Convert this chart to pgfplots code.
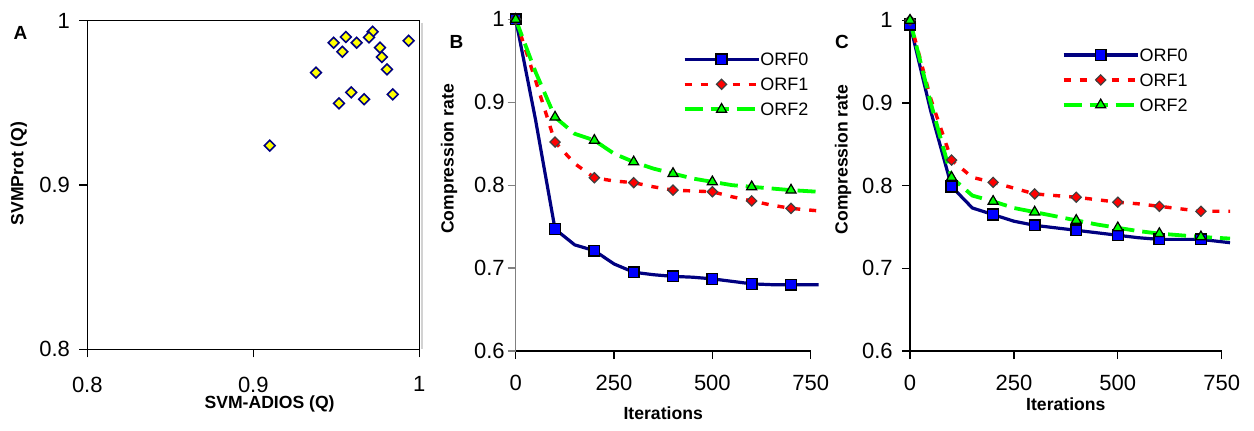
\documentclass[border=0pt]{standalone}
\usepackage{pgfplots}
\pgfplotsset{compat=1.18}
\usepackage{fontspec}
\setmainfont{Liberation Sans}
\definecolor{navy}{RGB}{0,0,128}
\definecolor{mblue}{RGB}{0,0,255}
\definecolor{mred}{RGB}{255,0,0}
\definecolor{mgreen}{RGB}{0,255,0}
\definecolor{myellow}{RGB}{255,255,0}
\definecolor{dgray}{RGB}{64,64,64}

\pgfplotstableread{
it   o0     o1     o2
0    1.000  1.000  1.000
50   0.880  0.927  0.937
100  0.747  0.852  0.882
150  0.728  0.826  0.862
200  0.721  0.809  0.854
250  0.705  0.805  0.838
300  0.695  0.803  0.828
350  0.692  0.798  0.820
400  0.690  0.794  0.814
450  0.689  0.793  0.808
500  0.687  0.792  0.804
550  0.684  0.786  0.800
600  0.681  0.781  0.798
650  0.680  0.776  0.796
700  0.680  0.772  0.794
770  0.680  0.769  0.792
}\tabB

\pgfplotstableread{
it   o0     o1     o2
0    0.995  1.000  1.000
50   0.890  0.905  0.900
100  0.799  0.831  0.810
150  0.773  0.810  0.788
200  0.765  0.804  0.781
250  0.757  0.797  0.773
300  0.752  0.790  0.768
350  0.749  0.788  0.763
400  0.746  0.786  0.758
450  0.743  0.783  0.753
500  0.740  0.780  0.749
550  0.737  0.778  0.745
600  0.735  0.775  0.742
650  0.735  0.772  0.740
700  0.735  0.769  0.738
770  0.731  0.769  0.736
}\tabC

\pgfplotsset{
  common/.style={
    scale only axis,
    anchor=south west,
    /pgf/number format/assume math mode=true,
    tick align=outside,
    tick pos=left,
    major tick length=4pt,
    tick style={black, line width=0.6pt},
    ticklabel style={font=\fontsize{11}{13}\selectfont},
    label style={font=\bfseries\fontsize{8.8}{10}\selectfont},
    xticklabel style={anchor=north, inner sep=0pt, yshift=-8pt},
    yticklabel style={anchor=east, inner sep=0pt},
  },
  curves/.style={
    common,
    clip=false,
    axis lines*=left,
    axis line style={line width=0.6pt},
    xmin=0, xmax=750, ymin=0.6, ymax=1,
    xtick={0,250,500,750},
    ytick={0.6,0.7,0.8,0.9,1},
    xlabel={Iterations},
    ylabel={Compression rate},
    mark repeat=2,
    legend cell align=left,
    legend style={draw=none, fill=none, inner sep=0pt, outer sep=0pt,
      anchor=north west, row sep=6pt,
      font=\fontsize{9}{9}\selectfont,
      nodes={inner sep=0pt, text height=6.5pt, text depth=0pt},
      /tikz/every even column/.append style={column sep=2pt}},
    legend image code/.code={\draw[mark repeat=2,mark phase=2,##1] plot coordinates {(0pt,0pt) (18.5pt,0pt) (37pt,0pt)};},
  },
  s0/.style={navy, line width=1.6pt, mark=square*, mark size=2.7pt, mark options={solid, fill=mblue, draw=black, line width=0.7pt}},
  s1/.style={mred, line width=1.7pt, dash pattern=on 3.5pt off 4.5pt, mark=square*, mark size=1.8pt, mark options={solid, rotate=45, fill=mred, draw=dgray, line width=0.6pt}},
  s2/.style={mgreen, line width=1.9pt, dash pattern=on 9pt off 4pt, mark=triangle*, mark size=2.9pt, mark options={solid, fill=mgreen, draw=black, line width=0.6pt}},
}

\begin{document}
\begin{tikzpicture}
\path[use as bounding box] (0,0) rectangle (627pt,215pt);

% Panel A
\begin{axis}[common, name=pA,
  at={(43.65pt,40.35pt)}, width=166pt, height=164.3pt,
  xmin=0.8, xmax=1, ymin=0.8, ymax=1,
  xtick={0.8,0.9,1}, ytick={0.8,0.9,1},
  axis line style={line width=0.6pt},
  xticklabel style={yshift=-1.5pt},
  yticklabel style={xshift=-4.5pt},
  xlabel={SVM-ADIOS (Q)}, ylabel={SVMProt (Q)},
  xlabel style={at={(axis description cs:0.549,0)}, anchor=north, inner sep=0pt, yshift=-22.9pt},
  ylabel style={at={(axis description cs:-0.206,0.535)}, anchor=center},
]
\addplot[only marks, mark=square*, mark size=1.9pt,
  mark options={rotate=45, fill=myellow, draw=navy, line width=0.8pt}] coordinates {
(0.9719,0.9933) (0.9697,0.9899) (0.9936,0.9878) (0.9558,0.9901)
(0.9484,0.9866) (0.9623,0.9866) (0.9536,0.9811) (0.9763,0.9836)
(0.9775,0.9779) (0.9805,0.9704) (0.9378,0.9684) (0.9590,0.9564)
(0.9840,0.9552) (0.9667,0.9522) (0.9516,0.9497) (0.9099,0.9240)
};
\end{axis}
\draw[gray!35, line width=1.2pt] ([xshift=1.3pt,yshift=-1pt]pA.north east) -- ([xshift=1.3pt]pA.south east);
\draw[black, line width=0.6pt] (pA.north west) -- (pA.north east) -- (pA.south east);

% Panel B
\begin{axis}[curves,
  at={(257.85pt,39.5pt)}, width=147.5pt, height=165.85pt,
  y axis line style={draw=gray}, ytick style={draw=gray},
  yticklabel style={xshift=-1.3pt},
  xlabel style={at={(axis description cs:0.5,0)}, anchor=north, inner sep=0pt, yshift=-27.8pt},
  ylabel style={at={(axis description cs:-0.226,0.579)}, anchor=center},
  legend style={at={(axis description cs:0.566,0.899)}},
]
\addplot[s0] table[x=it, y=o0] {\tabB};
\addlegendentry{ORF0}
\addplot[s1] table[x=it, y=o1] {\tabB};
\addlegendentry{ORF1}
\addplot[s2] table[x=it, y=o2] {\tabB};
\addlegendentry{ORF2}
\end{axis}

% Panel C
\begin{axis}[curves,
  at={(455pt,39.5pt)}, width=155.85pt, height=165.35pt,
  yticklabel style={xshift=-4.5pt},
  xlabel style={at={(axis description cs:0.5,0)}, anchor=north, inner sep=0pt, yshift=-23.2pt},
  ylabel style={at={(axis description cs:-0.215,0.579)}, anchor=center},
  legend style={at={(axis description cs:0.487,0.915)}},
]
\addplot[s0] table[x=it, y=o0] {\tabC};
\addlegendentry{ORF0}
\addplot[s1] table[x=it, y=o1] {\tabC};
\addlegendentry{ORF1}
\addplot[s2] table[x=it, y=o2] {\tabC};
\addlegendentry{ORF2}
\end{axis}

\node[font=\bfseries\fontsize{9.5}{9.5}\selectfont] at (10.25pt,198.5pt) {A};
\node[font=\bfseries\fontsize{9.5}{9.5}\selectfont] at (228.3pt,194.2pt) {B};
\node[font=\bfseries\fontsize{9.5}{9.5}\selectfont] at (421pt,194pt) {C};
\end{tikzpicture}
\end{document}
